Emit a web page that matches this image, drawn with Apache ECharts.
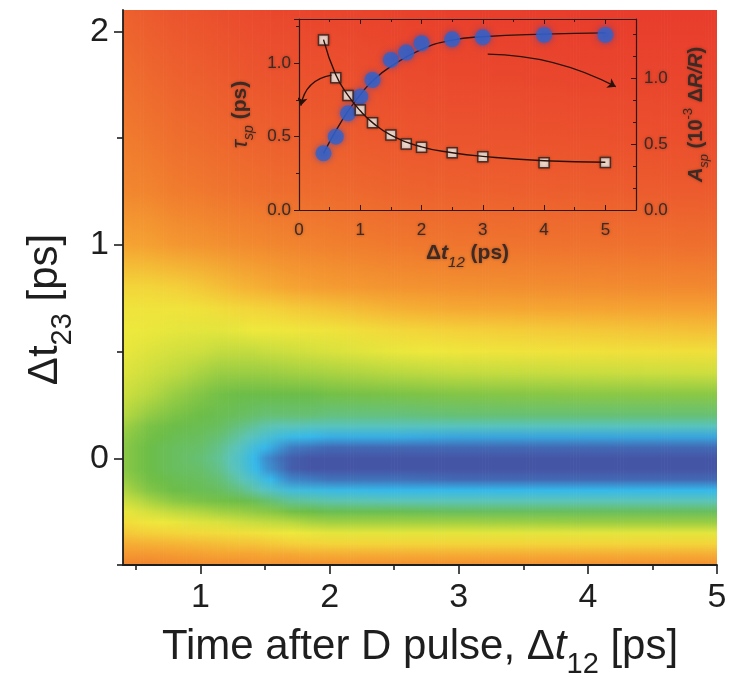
<!DOCTYPE html>
<html>
<head>
<meta charset="utf-8">
<script src="https://cdn.jsdelivr.net/npm/echarts@6/dist/echarts.min.js"></script>
<style>html,body{margin:0;padding:0;background:#fff}#c{width:733px;height:684px}</style>
</head>
<body>
<div id="c"></div>
<script>
// ---------------- main map: Δt23 rows, Δt12 columns, signal level (0 = red … 10 = dark blue)
const dt23Rows = [-0.5,-0.45,-0.4,-0.35,-0.3,-0.25,-0.2,-0.15,-0.1,-0.05,0,0.05,0.1,0.15,0.2,0.3,0.4,0.5,0.6,0.7,0.8,1.0,1.25,1.5,1.8,2.1];
const dt12Cols = [0.4,0.6,0.8,1.0,1.15,1.3,1.4,1.5,1.6,1.7,1.85,2.0,2.5,3.0,4.0,5.0];
const col_0_40 = [2.2,2.7,3.2,3.8,4.5,5.1,5.6,6.1,6.4,6.6,6.6,6.6,6.5,6.3,6.0,5.6,5.3,5.1,5.0,4.8,4.2,3.0,2.3,2.0,1.6,1.2];
const col_0_60 = [2.2,2.7,3.3,4.0,4.9,5.5,6.2,6.7,6.9,7.0,7.0,7.0,6.9,6.8,6.5,6.0,5.6,5.3,5.05,4.8,4.2,2.9,2.2,1.8,1.4,1.0];
const col_0_80 = [2.3,2.8,3.4,4.2,5.1,5.9,6.6,7.0,7.1,7.2,7.2,7.2,7.1,7.0,6.8,6.4,5.9,5.5,5.15,4.8,4.0,2.7,2.0,1.6,1.2,0.8];
const col_1_00 = [2.4,2.9,3.5,4.4,5.3,6.1,6.8,7.1,7.2,7.3,7.4,7.3,7.2,7.1,7.0,6.7,6.2,5.6,5.2,4.7,3.8,2.6,1.9,1.5,1.1,0.7];
const col_1_15 = [2.4,3.0,3.6,4.5,5.4,6.3,6.9,7.2,7.4,7.6,7.7,7.6,7.4,7.2,7.1,6.9,6.4,5.8,5.2,4.5,3.6,2.5,1.8,1.4,1.0,0.6];
const col_1_30 = [2.4,3.0,3.7,4.6,5.6,6.4,7.0,7.5,7.9,8.2,8.3,8.1,7.8,7.5,7.2,7.0,6.4,5.8,5.1,4.3,3.4,2.4,1.7,1.3,0.9,0.5];
const col_1_40 = [2.5,3.0,3.7,4.7,5.7,6.5,7.1,7.8,8.3,8.8,8.9,8.6,8.1,7.7,7.3,7.0,6.4,5.8,5.0,4.2,3.3,2.35,1.65,1.25,0.85,0.45];
const col_1_50 = [2.5,3.1,3.8,4.8,5.8,6.6,7.3,8.1,8.8,9.3,9.4,9.0,8.4,7.9,7.4,7.0,6.4,5.7,5.0,4.1,3.2,2.3,1.6,1.2,0.8,0.4];
const col_1_60 = [2.5,3.1,3.9,4.9,5.9,6.7,7.5,8.4,9.2,9.6,9.7,9.3,8.7,8.0,7.4,7.0,6.35,5.65,4.95,4.0,3.1,2.25,1.55,1.15,0.75,0.35];
const col_1_70 = [2.5,3.1,4.0,5.0,6.0,6.9,7.7,8.7,9.5,9.9,9.9,9.6,8.9,8.0,7.4,7.0,6.3,5.6,4.9,3.9,3.0,2.2,1.55,1.15,0.75,0.35];
const col_1_85 = [2.5,3.2,4.1,5.1,6.2,7.0,7.8,8.8,9.6,10,10,9.7,9.0,8.1,7.4,7.0,6.25,5.5,4.85,3.8,2.9,2.15,1.5,1.1,0.7,0.3];
const col_2_00 = [2.5,3.2,4.2,5.2,6.3,7.1,7.9,8.9,9.7,10,10,9.8,9.1,8.1,7.5,6.9,6.2,5.4,4.8,3.7,2.8,2.1,1.5,1.1,0.7,0.3];
const col_2_50 = [2.5,3.2,4.2,5.2,6.3,7.1,8.0,9.0,9.7,10,10,9.8,9.1,8.1,7.5,6.8,6.0,5.1,4.3,3.3,2.6,1.9,1.3,0.9,0.5,0.2];
const col_3_00 = [2.5,3.2,4.2,5.2,6.3,7.2,8.0,9.0,9.8,10,10,9.8,9.2,8.1,7.4,6.7,5.8,4.9,4.0,3.1,2.5,1.8,1.2,0.8,0.4,0.1];
const col_4_00 = [2.5,3.2,4.2,5.2,6.4,7.2,8.0,9.0,9.8,10,10,9.8,9.2,8.1,7.4,6.6,5.7,4.7,3.8,3.0,2.4,1.7,1.1,0.7,0.3,0.0];
const col_5_00 = [2.5,3.2,4.2,5.2,6.4,7.2,8.0,9.0,9.8,10,10,9.8,9.2,8.1,7.4,6.6,5.6,4.6,3.6,2.9,2.3,1.6,1.0,0.6,0.3,0.0];
const heatColumns = [col_0_40,col_0_60,col_0_80,col_1_00,col_1_15,col_1_30,col_1_40,col_1_50,col_1_60,col_1_70,col_1_85,col_2_00,col_2_50,col_3_00,col_4_00,col_5_00];

// main axis ticks
const mainXLabels = [1,2,3,4,5];
const mainXMinor = [0.5,1.5,2.5,3.5,4.5];
const mainYLabels = [0,1,2];
const mainYMinor = [-0.5,0.5,1.5];

// ---------------- inset
const insetX = [0.4,0.6,0.8,1.0,1.2,1.5,1.75,2.0,2.5,3.0,4.0,5.0];
const tauSp  = [1.157,0.90,0.78,0.68,0.594,0.51,0.449,0.427,0.39,0.363,0.322,0.324];
const aSp    = [0.43,0.557,0.734,0.86,0.987,1.139,1.195,1.266,1.296,1.311,1.329,1.329];
const fitX   = [0.4,0.6,0.8,1.0,1.2,1.5,2.0,2.5,3.0,4.0,5.0];
const tauFit = [1.16,0.92,0.78,0.675,0.595,0.51,0.43,0.39,0.365,0.335,0.325];
const aFit   = [0.43,0.60,0.75,0.875,0.98,1.09,1.22,1.29,1.315,1.335,1.345];
const arrowTau = [[0.53,0.918],[0.03,0.71]];
const arrowA   = [[3.08,1.061],[5.17,0.839]];

// ---------------- colours
const palette = ['#e83c2c','#ec5a2e','#f07c2e','#f5a432','#f4d03a','#eee83c','#b8d840','#6cbd48','#5cc4b8','#36b8ea','#4555a6'];
const palRgb = palette.map(h => [parseInt(h.slice(1,3),16),parseInt(h.slice(3,5),16),parseInt(h.slice(5,7),16)]);
function colorFor(v){
  v = Math.max(0, Math.min(10, v));
  const i = Math.min(9, Math.floor(v)), t = v - i;
  const a = palRgb[i], b = palRgb[i+1];
  return 'rgb(' + a.map((c,j) => Math.round(c + (b[j]-c)*t)).join(',') + ')';
}
const Y_MIN = -0.5, Y_MAX = 2.1, X_MIN = 0.4, X_MAX = 5;
const FONT = "'Liberation Sans', Arial, sans-serif";
const INK = '#1e1e1e';
const INSET_INK = '#3d2a24';
const insetShadow = {textShadowColor:'rgba(70,30,20,0.45)', textShadowBlur:3};

function renderHeat(params, api){
  const i = api.value(1);
  const colA = heatColumns[i], colB = heatColumns[i+1];
  const p0 = api.coord([dt12Cols[i], Y_MAX]);
  const p1 = api.coord([dt12Cols[i+1], Y_MIN]);
  const n = Math.max(1, Math.ceil((p1[0]-p0[0]) / 3));
  const w = (p1[0]-p0[0]) / n;
  const children = [];
  for (let s = 0; s < n; s++){
    const t = (s + 0.5) / n;
    const stops = dt23Rows.map((y,k) => ({
      offset: (Y_MAX - y) / (Y_MAX - Y_MIN),
      color: colorFor(colA[k]*(1-t) + colB[k]*t)
    })).sort((a,b) => a.offset - b.offset);
    children.push({
      type:'rect',
      shape:{x: p0[0] + s*w, y: p0[1], width: w + 0.7, height: p1[1]-p0[1]},
      style:{fill: new echarts.graphic.LinearGradient(0,0,0,1,stops)},
      silent:true
    });
  }
  return {type:'group', children};
}

const chart = echarts.init(document.getElementById('c'), null, {renderer:'canvas'});
const option = {
  animation:false,
  backgroundColor:'#ffffff',
  grid:[
    {left:123, right:16, top:10, bottom:118},
    {left:299, right:97, top:19, bottom:474, z:10}
  ],
  xAxis:[
    { type:'value', gridIndex:0, min:X_MIN, max:X_MAX, position:'bottom', z:5,
      axisLine:{show:true, onZero:false, lineStyle:{color:INK, width:1.8}},
      axisTick:{show:true, length:9, customValues:mainXLabels, lineStyle:{color:INK, width:1.6}},
      axisLabel:{customValues:mainXLabels, fontSize:34, color:INK, fontFamily:FONT, margin:16},
      splitLine:{show:false},
      name:'{a|Time after D pulse, Δ}{i|t}{s|12}{a| [ps]}',
      nameLocation:'middle', nameGap:61,
      nameTextStyle:{rich:{
        a:{fontSize:42, fontFamily:FONT, color:INK, verticalAlign:'top'},
        i:{fontSize:42, fontFamily:FONT, color:INK, fontStyle:'italic', verticalAlign:'top'},
        s:{fontSize:29, fontFamily:FONT, color:INK, verticalAlign:'top', padding:[24,0,0,0]}
      }}
    },
    { type:'value', gridIndex:0, min:X_MIN, max:X_MAX, position:'bottom', z:5,
      axisLine:{show:false, onZero:false},
      axisTick:{show:true, length:5, customValues:mainXMinor, lineStyle:{color:INK, width:1.6}},
      axisLabel:{show:false}, splitLine:{show:false}
    },
    { type:'value', gridIndex:1, min:0, max:5.5, interval:1, position:'bottom', z:12,
      axisLine:{show:true, onZero:false, lineStyle:{color:'#2e1a14', width:1.2}},
      axisTick:{show:true, inside:true, length:5, lineStyle:{color:'#2e1a14'}},
      minorTick:{show:true, splitNumber:2, length:3, lineStyle:{color:'#2e1a14'}},
      axisLabel:{fontSize:17, color:INSET_INK, fontFamily:FONT, margin:12, showMaxLabel:false, ...insetShadow},
      splitLine:{show:false},
      name:'{a|Δ}{i|t}{s|12}{a| (ps)}', nameLocation:'middle', nameGap:33,
      nameTextStyle:{rich:{
        a:{fontSize:21, fontFamily:FONT, color:INSET_INK, fontWeight:'bold', verticalAlign:'top', ...insetShadow},
        i:{fontSize:21, fontFamily:FONT, color:INSET_INK, fontWeight:'bold', fontStyle:'italic', verticalAlign:'top', ...insetShadow},
        s:{fontSize:15, fontFamily:FONT, color:INSET_INK, fontStyle:'italic', verticalAlign:'top', padding:[12,0,0,0], ...insetShadow}
      }}
    },
    { type:'value', gridIndex:1, min:0, max:5.5, interval:1, position:'top', z:12,
      axisLine:{show:true, onZero:false, lineStyle:{color:'#2e1a14', width:1.2}},
      axisTick:{show:true, inside:true, length:5, lineStyle:{color:'#2e1a14'}},
      minorTick:{show:true, splitNumber:2, length:3, lineStyle:{color:'#2e1a14'}},
      axisLabel:{show:false}, splitLine:{show:false}
    }
  ],
  yAxis:[
    { type:'value', gridIndex:0, min:Y_MIN, max:Y_MAX, position:'left', z:5,
      axisLine:{show:true, onZero:false, lineStyle:{color:INK, width:1.8}},
      axisTick:{show:true, length:9, customValues:mainYLabels, lineStyle:{color:INK, width:1.6}},
      axisLabel:{customValues:mainYLabels, fontSize:34, color:INK, fontFamily:FONT, margin:14},
      splitLine:{show:false},
      name:'{a|Δt}{s|23}{a| [ps]}', nameLocation:'middle', nameGap:46, nameRotate:90,
      nameTextStyle:{padding:[0,44,0,0], rich:{
        a:{fontSize:42, fontFamily:FONT, color:INK, verticalAlign:'top'},
        s:{fontSize:29, fontFamily:FONT, color:INK, verticalAlign:'top', padding:[24,0,0,0]}
      }}
    },
    { type:'value', gridIndex:0, min:Y_MIN, max:Y_MAX, position:'left', z:5,
      axisLine:{show:false, onZero:false},
      axisTick:{show:true, length:6, customValues:mainYMinor, lineStyle:{color:INK, width:1.6}},
      axisLabel:{show:false}, splitLine:{show:false}
    },
    { type:'value', gridIndex:1, min:0, max:1.3, interval:0.5, position:'left', z:12,
      axisLine:{show:true, onZero:false, lineStyle:{color:'#2e1a14', width:1.2}},
      axisTick:{show:true, length:5, lineStyle:{color:'#2e1a14'}},
      minorTick:{show:true, splitNumber:2, length:3, lineStyle:{color:'#2e1a14'}},
      axisLabel:{fontSize:17, color:INSET_INK, fontFamily:FONT, margin:8, showMaxLabel:false,
        formatter:v => v.toFixed(1), ...insetShadow},
      splitLine:{show:false},
      name:'{i|τ}{s|sp}{a| (ps)}', nameLocation:'middle', nameGap:43, nameRotate:90,
      nameTextStyle:{rich:{
        a:{fontSize:21, fontFamily:FONT, color:INSET_INK, fontWeight:'bold', verticalAlign:'top', ...insetShadow},
        i:{fontSize:22, fontFamily:FONT, color:INSET_INK, fontStyle:'italic', verticalAlign:'top', ...insetShadow},
        s:{fontSize:14, fontFamily:FONT, color:INSET_INK, fontStyle:'italic', verticalAlign:'top', padding:[12,0,0,0], ...insetShadow}
      }}
    },
    { type:'value', gridIndex:1, min:0, max:1.45, interval:0.5, position:'right', z:12,
      axisLine:{show:true, onZero:false, lineStyle:{color:'#2e1a14', width:1.2}},
      axisTick:{show:true, inside:true, length:5, lineStyle:{color:'#2e1a14'}},
      minorTick:{show:true, splitNumber:3, length:3, lineStyle:{color:'#2e1a14'}},
      axisLabel:{fontSize:17, color:INSET_INK, fontFamily:FONT, margin:8, showMaxLabel:false,
        formatter:v => v.toFixed(1), ...insetShadow},
      splitLine:{show:false},
      name:'{i|A}{s|sp}{a| (10}{p|-3}{a| Δ}{i|R/R}{a|)}', nameLocation:'middle', nameGap:46, nameRotate:90,
      nameTextStyle:{rich:{
        a:{fontSize:20, fontFamily:FONT, color:INSET_INK, fontWeight:'bold', verticalAlign:'top', padding:[4,0,0,0], ...insetShadow},
        i:{fontSize:20, fontFamily:FONT, color:INSET_INK, fontWeight:'bold', fontStyle:'italic', verticalAlign:'top', padding:[4,0,0,0], ...insetShadow},
        s:{fontSize:13, fontFamily:FONT, color:INSET_INK, fontStyle:'italic', verticalAlign:'top', padding:[16,0,0,0], ...insetShadow},
        p:{fontSize:13, fontFamily:FONT, color:INSET_INK, verticalAlign:'top', padding:[0,0,0,0], ...insetShadow}
      }}
    }
  ],
  series:[
    { type:'custom', name:'map', xAxisIndex:0, yAxisIndex:0, z:1, silent:true, clip:true,
      renderItem:renderHeat,
      encode:{x:0, y:2},
      data: dt12Cols.slice(0,-1).map((x,i) => [x, i, 0])
    },
    { type:'scatter', name:'tau', xAxisIndex:2, yAxisIndex:2, z:20,
      symbol:'rect', symbolSize:10,
      itemStyle:{color:'#fbfbf4', borderColor:'#2a1a16', borderWidth:1.5, shadowBlur:3, shadowColor:'rgba(40,10,0,0.4)'},
      data: insetX.map((x,i) => [x, tauSp[i]])
    },
    { type:'line', name:'tauFit', xAxisIndex:2, yAxisIndex:2, z:21, smooth:true, symbol:'none',
      lineStyle:{color:'#2a120c', width:1.4},
      data: fitX.map((x,i) => [x, tauFit[i]])
    },
    { type:'line', name:'aFit', xAxisIndex:2, yAxisIndex:3, z:18, smooth:true, symbol:'none',
      lineStyle:{color:'#2a120c', width:1.4},
      data: fitX.map((x,i) => [x, aFit[i]])
    },
    { type:'scatter', name:'A', xAxisIndex:2, yAxisIndex:3, z:19,
      symbol:'circle', symbolSize:16,
      itemStyle:{color:'#3163cb', shadowBlur:6, shadowColor:'rgba(30,70,200,0.75)'},
      data: insetX.map((x,i) => [x, aSp[i]])
    },
    { type:'lines', name:'arrows', coordinateSystem:'cartesian2d', xAxisIndex:2, yAxisIndex:2, z:22,
      symbol:['none','arrow'], symbolSize:8,
      lineStyle:{color:'#2a120c', width:1.4, curveness:-0.35, opacity:1},
      data:[{coords:arrowTau}, {coords:arrowA, lineStyle:{curveness:0.12}}]
    }
  ]
};
chart.setOption(option);
</script>
</body>
</html>
